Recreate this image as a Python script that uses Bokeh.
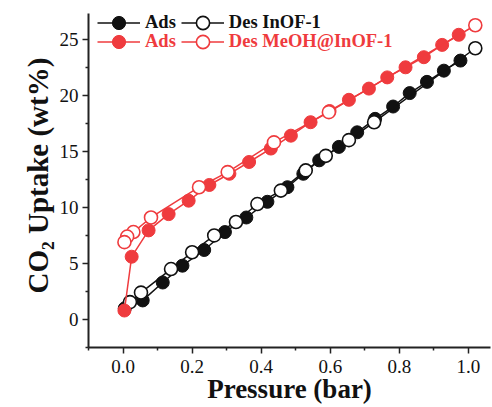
from bokeh.plotting import figure
from bokeh.models import Range1d, FixedTicker, Legend, LegendItem, Title
from bokeh.embed import file_html
from bokeh.resources import INLINE

# ---- data ----
inof_ads_p = [0.005, 0.057, 0.115, 0.172, 0.235, 0.295, 0.357, 0.418, 0.476, 0.522,
              0.568, 0.625, 0.678, 0.730, 0.782, 0.830, 0.880, 0.929, 0.977]
inof_ads_u = [1.0, 1.7, 3.3, 4.8, 6.2, 7.8, 9.1, 10.5, 11.8, 13.0,
              14.2, 15.4, 16.7, 17.9, 19.0, 20.2, 21.2, 22.2, 23.1]

inof_des_p = [1.020, 0.727, 0.654, 0.587, 0.529, 0.457, 0.389, 0.327, 0.264, 0.200,
              0.139, 0.052, 0.020]
inof_des_u = [24.2, 17.6, 16.0, 14.6, 13.3, 11.5, 10.3, 8.7, 7.5, 6.0,
              4.5, 2.4, 1.55]

meoh_ads_p = [0.004, 0.025, 0.074, 0.132, 0.190, 0.250, 0.308, 0.365, 0.428, 0.486,
              0.543, 0.598, 0.654, 0.712, 0.765, 0.818, 0.871, 0.924, 0.972]
meoh_ads_u = [0.8, 5.6, 7.95, 9.4, 10.6, 12.0, 13.0, 14.05, 15.25, 16.4,
              17.6, 18.6, 19.6, 20.6, 21.6, 22.5, 23.4, 24.5, 25.4]

meoh_des_p = [1.020, 0.596, 0.437, 0.303, 0.220, 0.081, 0.030, 0.012, 0.004]
meoh_des_u = [26.25, 18.5, 15.8, 13.15, 11.8, 9.1, 7.8, 7.4, 6.9]

x_ticks = [0.0, 0.2, 0.4, 0.6, 0.8, 1.0]
x_tick_labels = ["0.0", "0.2", "0.4", "0.6", "0.8", "1.0"]
x_minor = [-0.1, 0.1, 0.3, 0.5, 0.7, 0.9]
y_ticks = [0, 5, 10, 15, 20, 25]
y_tick_labels = ["0", "5", "10", "15", "20", "25"]
y_minor = [-2.5, 2.5, 7.5, 12.5, 17.5, 22.5]

BLACK = "#111111"
RED = "#EF3B3E"
FONT = "Liberation Serif"

p = figure(width=492, height=407, x_range=Range1d(-0.1, 1.064), y_range=Range1d(-2.5, 27.3),
           output_backend="svg", toolbar_location=None,
           min_border_left=88, min_border_right=2, min_border_top=13, min_border_bottom=60)
p.outline_line_color = None
p.grid.visible = False
p.background_fill_color = "white"
p.border_fill_color = "white"

for ax, ticks, minor, labels in ((p.xaxis[0], x_ticks, x_minor, x_tick_labels),
                                 (p.yaxis[0], y_ticks, y_minor, y_tick_labels)):
    ax.ticker = FixedTicker(ticks=ticks, minor_ticks=minor)
    ax.major_label_overrides = {t: l for t, l in zip(ticks, labels)}
    ax.axis_line_width = 2
    ax.axis_line_color = "#222222"
    ax.major_tick_line_color = "#222222"
    ax.minor_tick_line_color = "#222222"
    ax.major_tick_line_width = 1.5
    ax.minor_tick_line_width = 1.5
    ax.major_tick_out = 6
    ax.major_tick_in = 0
    ax.minor_tick_out = 3
    ax.minor_tick_in = 0
    ax.major_label_text_font = FONT
    ax.major_label_text_font_size = "19px"
    ax.major_label_text_color = "#111111"
    ax.major_label_standoff = 4

p.xaxis.axis_label = "Pressure (bar)"
p.xaxis.axis_label_text_font = FONT
p.xaxis.axis_label_text_font_style = "bold"
p.xaxis.axis_label_text_font_size = "27px"
p.xaxis.axis_label_text_color = "#111111"
p.xaxis.axis_label_standoff = -2
p.xaxis.major_label_standoff = 6

ytitle = Title(text="CO\u2082 Uptake (wt%)", align="left", offset=54, standoff=5,
               text_font=FONT, text_font_style="bold", text_font_size="29px",
               text_color="#111111")
p.add_layout(ytitle, "left")

MS = 13
l1 = p.line(inof_ads_p, inof_ads_u, line_color=BLACK, line_width=1.5)
s1 = p.scatter(inof_ads_p, inof_ads_u, size=MS, fill_color=BLACK, line_color=BLACK, line_width=1)
l2 = p.line(inof_des_p, inof_des_u, line_color=BLACK, line_width=1.5)
s2 = p.scatter(inof_des_p, inof_des_u, size=MS, fill_color="white", line_color=BLACK, line_width=1.6)
l3 = p.line(meoh_ads_p, meoh_ads_u, line_color=RED, line_width=1.5)
s3 = p.scatter(meoh_ads_p, meoh_ads_u, size=MS, fill_color=RED, line_color=RED, line_width=1)
l4 = p.line(meoh_des_p, meoh_des_u, line_color=RED, line_width=1.5)
s4 = p.scatter(meoh_des_p, meoh_des_u, size=MS, fill_color="white", line_color=RED, line_width=1.6)


def make_legend(items, color, loc):
    return Legend(items=items, orientation="horizontal", location=loc,
                  label_text_font=FONT, label_text_font_style="bold",
                  label_text_font_size="18.5px", label_text_color=color,
                  glyph_width=43, glyph_height=33, label_standoff=5, spacing=5,
                  padding=0, margin=0, background_fill_alpha=0, border_line_color=None)


leg1 = make_legend([LegendItem(label="Ads", renderers=[l1, s1]),
                    LegendItem(label="Des InOF-1", renderers=[l2, s2])], BLACK, (9, 308))
leg2 = make_legend([LegendItem(label="Ads", renderers=[l3, s3]),
                    LegendItem(label="Des MeOH@InOF-1", renderers=[l4, s4])], RED, (9, 289))
p.add_layout(leg1)
p.add_layout(leg2)

open("out.html", "w").write(file_html(p, INLINE))
